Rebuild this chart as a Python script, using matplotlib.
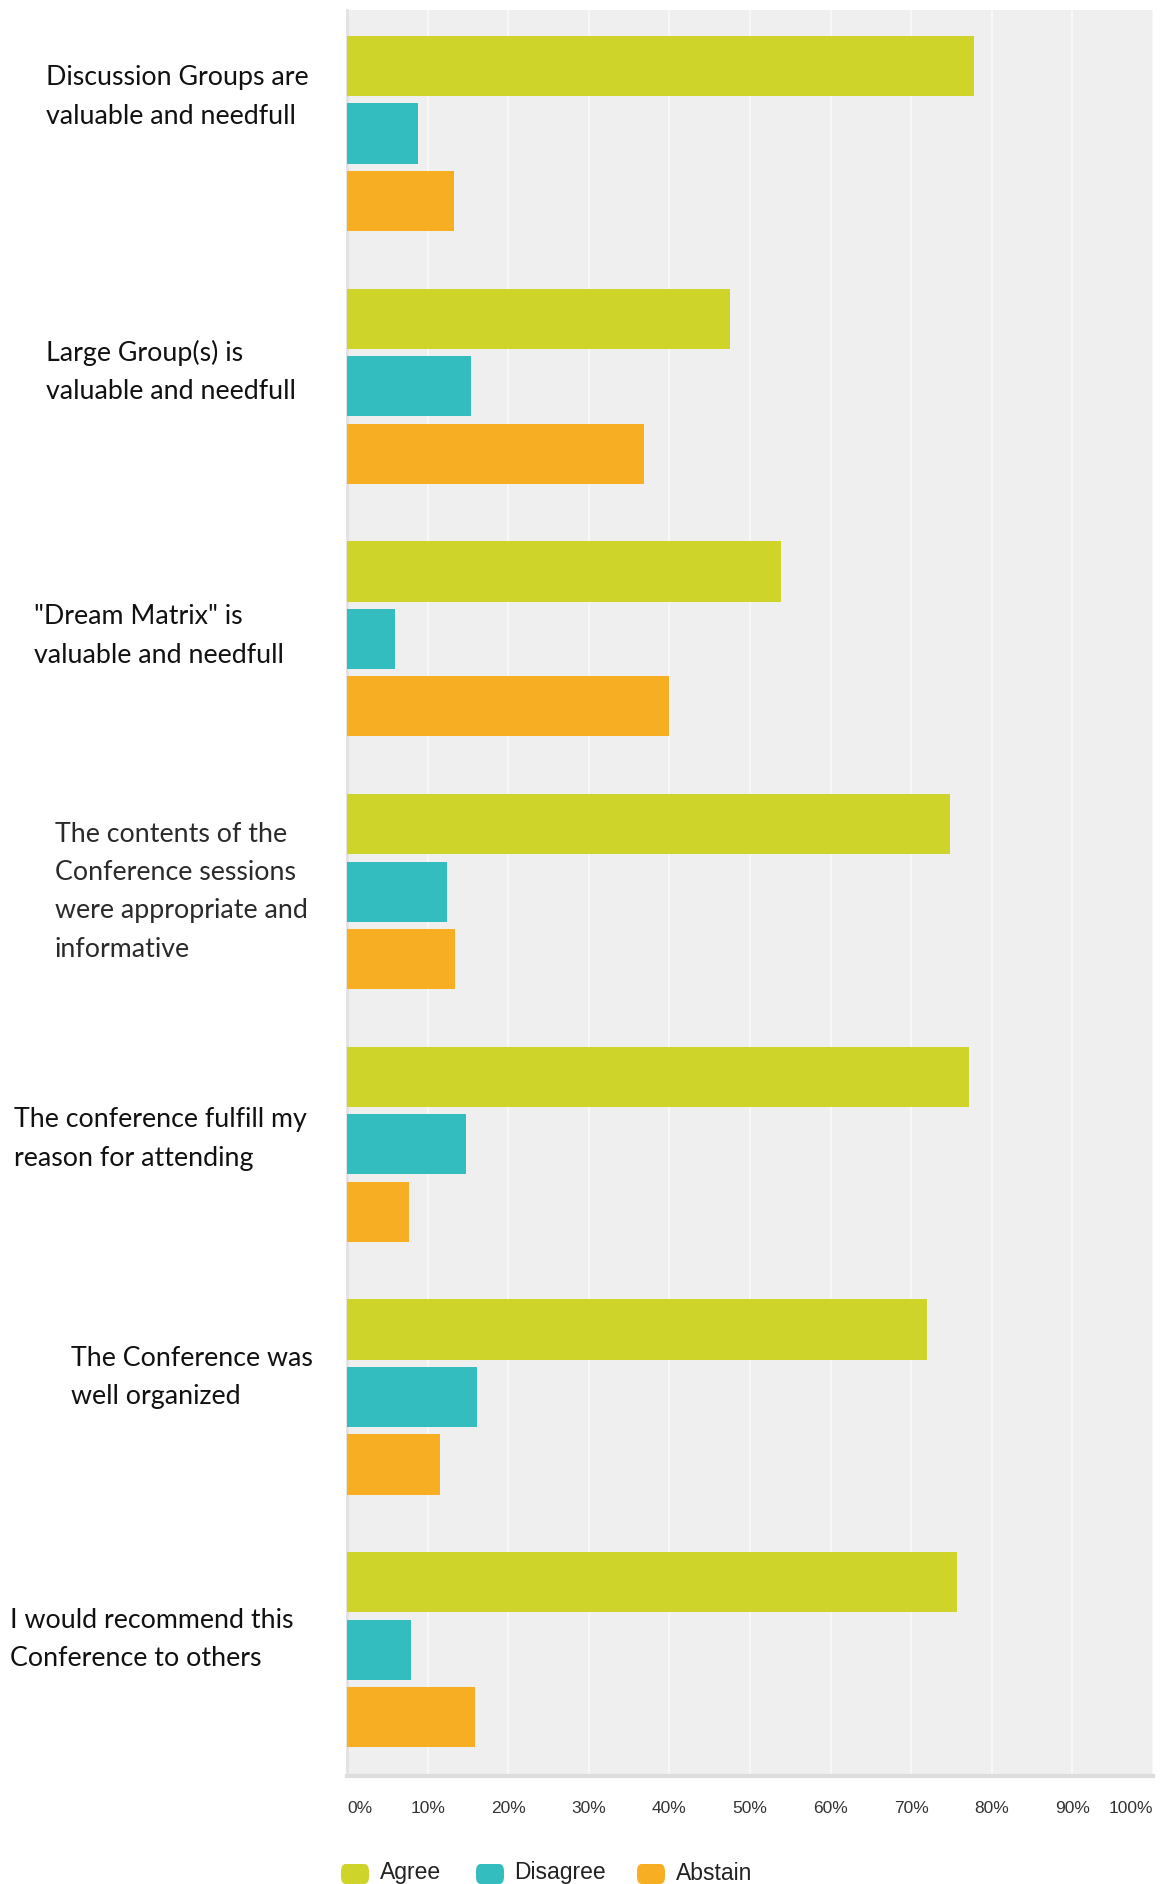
import matplotlib
matplotlib.use("Agg")
import matplotlib.pyplot as plt
from matplotlib.patches import FancyBboxPatch
import numpy as np

# ---------------- data ----------------
categories = [
    "Discussion Groups are\nvaluable and needfull",
    "Large Group(s) is\nvaluable and needfull",
    "\"Dream Matrix\" is\nvaluable and needfull",
    "The contents of the\nConference sessions\nwere appropriate and\ninformative",
    "The conference fulfill my\nreason for attending",
    "The Conference was\nwell organized",
    "I would recommend this\nConference to others",
]
series_names = ["Agree", "Disagree", "Abstain"]
agree = [77.8, 47.5, 53.8, 74.8, 77.2, 72.0, 75.7]
disagree = [8.8, 15.4, 6.0, 12.4, 14.8, 16.1, 8.0]
abstain = [13.3, 36.8, 39.9, 13.4, 7.7, 11.5, 15.9]
tick_values = [0, 10, 20, 30, 40, 50, 60, 70, 80, 90, 100]
tick_labels = ["0%", "10%", "20%", "30%", "40%", "50%", "60%", "70%", "80%", "90%", "100%"]

# ---------------- style / layout ----------------
colors = ["#CFD42A", "#33BDBF", "#F8AE22"]
W, H = 1163, 1884
# label layout: (left x px, first line centre y px, light font?)
label_layout = [
    (46, 78, False),
    (46, 353, False),
    (34, 617, False),
    (55, 834, True),
    (14, 1120, False),
    (71, 1358, False),
    (10, 1620, False),
]
line_step = 38.5
legend_x = [(341, 380), (476, 514), (637, 676)]

fig = plt.figure(figsize=(W / 100, H / 100), dpi=100)
ax = fig.add_axes([347 / W, 1 - 1776 / H, (1153 - 347) / W, (1776 - 10) / H])
ax.set_facecolor("#EFEFEF")

y = np.arange(len(categories))
offs = [-0.267, 0.0, 0.267]
for vals, off, c, name in zip([agree, disagree, abstain], offs, colors, series_names):
    ax.barh(y + off, vals, height=0.238, color=c, label=name, zorder=3)

ax.set_xlim(0, 100)
ax.set_ylim(6.5, -0.489)
ax.set_xticks(tick_values)
ax.set_xticklabels(tick_labels, fontsize=12.5, family="Liberation Sans", color="#333333")
for i, t in enumerate(ax.get_xticklabels()):
    if i == 0:
        t.set_ha("left")
    elif i == len(tick_values) - 1:
        t.set_ha("right")
ax.tick_params(axis="x", length=0, pad=18)
ax.set_yticks([])
ax.grid(axis="x", color="#F9F9F9", linewidth=1.2, zorder=1)
for s in ["top", "right"]:
    ax.spines[s].set_visible(False)
ax.spines["left"].set_color("#E2E2E2")
ax.spines["left"].set_linewidth(2)
ax.spines["bottom"].set_color("#DDDDDD")
ax.spines["bottom"].set_linewidth(3)

# category labels
for cat, (lx, ly, light) in zip(categories, label_layout):
    for k, line in enumerate(cat.split("\n")):
        fig.text(lx / W, 1 - (ly + k * line_step) / H, line,
                 fontsize=19.3, family="Lato",
                 color="#2a2a2a" if light else "#111111",
                 ha="left", va="center")

# legend
for name, c, (sx, tx) in zip(series_names, colors, legend_x):
    p = FancyBboxPatch((sx / W, 1 - 1884 / H), 28 / W, 20 / H,
                       boxstyle="round,pad=0,rounding_size=0.004",
                       transform=fig.transFigure, facecolor=c, edgecolor="none")
    fig.patches.append(p)
    fig.text(tx / W, 1 - 1873 / H, name, fontsize=16.5, family="Liberation Sans",
             color="#222222", ha="left", va="center")

fig.savefig("out.png", dpi=100)
